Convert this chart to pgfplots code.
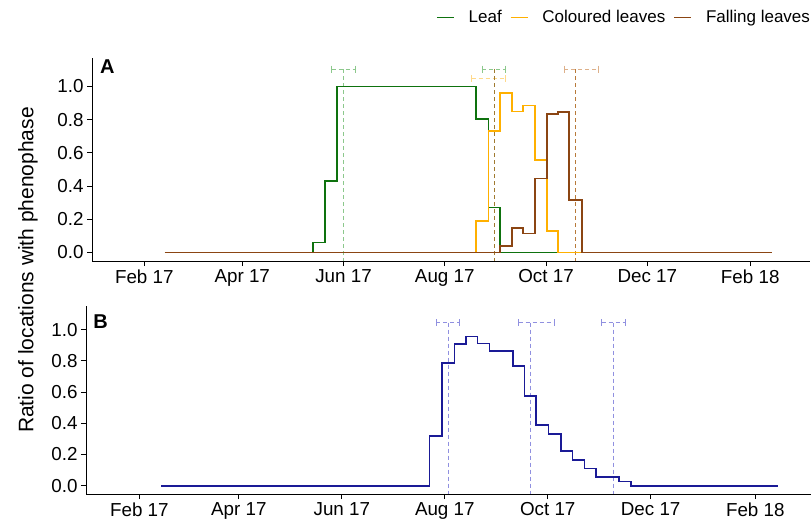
\documentclass[border=0pt]{standalone}
\usepackage{pgfplots}
\pgfplotsset{compat=1.18}
\usepackage{fontspec}
\setmainfont{Liberation Sans}
\definecolor{cgreen}{HTML}{0E720E}
\definecolor{corange}{HTML}{FFB000}
\definecolor{cbrown}{HTML}{8B4513}
\definecolor{cblue}{HTML}{1A1A96}
\definecolor{lgreen}{HTML}{8CC88C}
\definecolor{lorange}{HTML}{FFD98A}
\definecolor{lbrown}{HTML}{DDB08A}
\definecolor{vgold}{HTML}{A07A30}
\definecolor{vbrown}{HTML}{B87A3A}
\definecolor{lblue}{HTML}{9090E0}
\pgfplotsset{
  base/.style={
    scale only axis,
    axis x line*=bottom, axis y line*=left,
    axis line style={line width=1pt, -},
    tick style={line width=0.9pt, black},
    tick align=outside,
    major tick length=5pt,
    xtick={31,90,151,212,273,334,396},
    xticklabels={Feb 17, Apr 17, Jun 17, Aug 17, Oct 17, Dec 17, Feb 18},
    ytick={0,0.2,0.4,0.6,0.8,1.0},
    yticklabel style={/pgf/number format/.cd, fixed, fixed zerofill, precision=1},
    ticklabel style={font=\fontsize{18.8}{21}\selectfont},
    /pgf/number format/assume math mode=true,
    clip=false,
  },
  dline/.style={dash pattern=on 4pt off 3pt, line width=0.8pt, forget plot},
  ebar/.style={dash pattern=on 4pt off 3pt, line width=0.8pt, forget plot, mark=|, mark size=3.5pt, mark options={solid, line width=0.8pt}},
  legG/.style={legend image code/.code={\draw[cgreen, line width=1.7pt] (0pt,0pt) -- (17pt,0pt);}},
  legO/.style={legend image code/.code={\draw[corange, line width=1.7pt] (0pt,0pt) -- (17pt,0pt);}},
  legB/.style={legend image code/.code={\draw[cbrown, line width=1.7pt] (0pt,0pt) -- (17pt,0pt);}},
}
\begin{document}
\begin{tikzpicture}
\useasboundingbox (0,0) rectangle (811pt,523pt);
% Panel A
\begin{axis}[base,
  at={(92pt,262pt)}, anchor=south west,
  width=718pt, height=203pt,
  xmin=-0.5, xmax=432, ymin=-0.052, ymax=1.172,
  legend columns=3,
  legend style={at={(1.003,1.2)}, anchor=east, draw=none, fill=none,
    font=\fontsize{17}{19}\selectfont, inner sep=0pt,
    /tikz/every even column/.append style={column sep=6pt},
    /tikz/every odd column/.append style={column sep=12pt}},
]
\addlegendimage{legG}\addlegendentry{Leaf}
\addlegendimage{legO}\addlegendentry{Coloured leaves}
\addlegendimage{legB}\addlegendentry{Falling leaves}
% means and ranges
\addplot[ebar, lgreen] coordinates {(143.9,1.105) (158.0,1.105)};
\addplot[dline, lgreen] coordinates {(150.9,1.105) (150.9,-0.052)};
\addplot[ebar, lorange] coordinates {(228.2,1.048) (248.7,1.048)};
\addplot[ebar, lgreen] coordinates {(234.7,1.105) (248.7,1.105)};
\addplot[dline, vgold] coordinates {(241.9,1.105) (241.9,-0.052)};
\addplot[ebar, lbrown] coordinates {(283.9,1.105) (304.6,1.105)};
\addplot[dline, vbrown] coordinates {(290.9,1.105) (290.9,-0.052)};
% series
\addplot[const plot, cgreen, line width=1.7pt, forget plot] coordinates {
 (43.4,0) (132.8,0.06) (139.9,0.43) (146.9,1.0) (230.9,0.806) (238.3,0.27) (245.3,0) (409,0)};
\addplot[const plot, corange, line width=1.7pt, forget plot] coordinates {
 (43.4,0) (230.9,0.19) (238.3,0.73) (245.3,0.96) (252.3,0.85) (259,0.885) (266.4,0.557) (273.4,0.129) (280.4,0) (409,0)};
\addplot[const plot, cbrown, line width=1.7pt, forget plot] coordinates {
 (43.4,0) (245.3,0.038) (252.3,0.147) (259,0.113) (266.4,0.446) (273.4,0.833) (280.4,0.845) (287,0.315) (294.5,0) (409,0)};
\node[anchor=north west, inner sep=0pt, font=\bfseries\fontsize{20}{22}\selectfont] at (rel axis cs:0.011,0.99) {A};
\end{axis}
% Panel B
\begin{axis}[base,
  at={(86pt,29pt)}, anchor=south west,
  width=725pt, height=188pt,
  xmin=-0.6, xmax=429, ymin=-0.053, ymax=1.151,
]
\addplot[ebar, lblue] coordinates {(206.9,1.045) (220.7,1.045)};
\addplot[dline, lblue] coordinates {(214.2,1.045) (214.2,-0.053)};
\addplot[ebar, lblue] coordinates {(255.7,1.045) (277.1,1.045)};
\addplot[dline, lblue] coordinates {(262.8,1.045) (262.8,-0.053)};
\addplot[ebar, lblue] coordinates {(304.9,1.045) (318.9,1.045)};
\addplot[dline, lblue] coordinates {(312.0,1.045) (312.0,-0.053)};
\addplot[const plot, cblue, line width=1.7pt] coordinates {
 (43.9,0) (202.9,0.318) (210.3,0.786) (217.7,0.906) (224.7,0.955) (231.4,0.91) (238.5,0.863) (252.3,0.767) (259.2,0.575) (266.2,0.388) (273.4,0.332) (281,0.222) (287.7,0.166) (294.8,0.111) (301.7,0.058) (315.2,0.028) (322.3,0) (409.4,0)};
\node[anchor=north west, inner sep=0pt, font=\bfseries\fontsize{20}{22}\selectfont] at (rel axis cs:0.01,0.955) {B};
\end{axis}
\node[rotate=90, font=\fontsize{21}{23}\selectfont] at (28pt,253pt) {Ratio of locations with phenophase};
\end{tikzpicture}
\end{document}
